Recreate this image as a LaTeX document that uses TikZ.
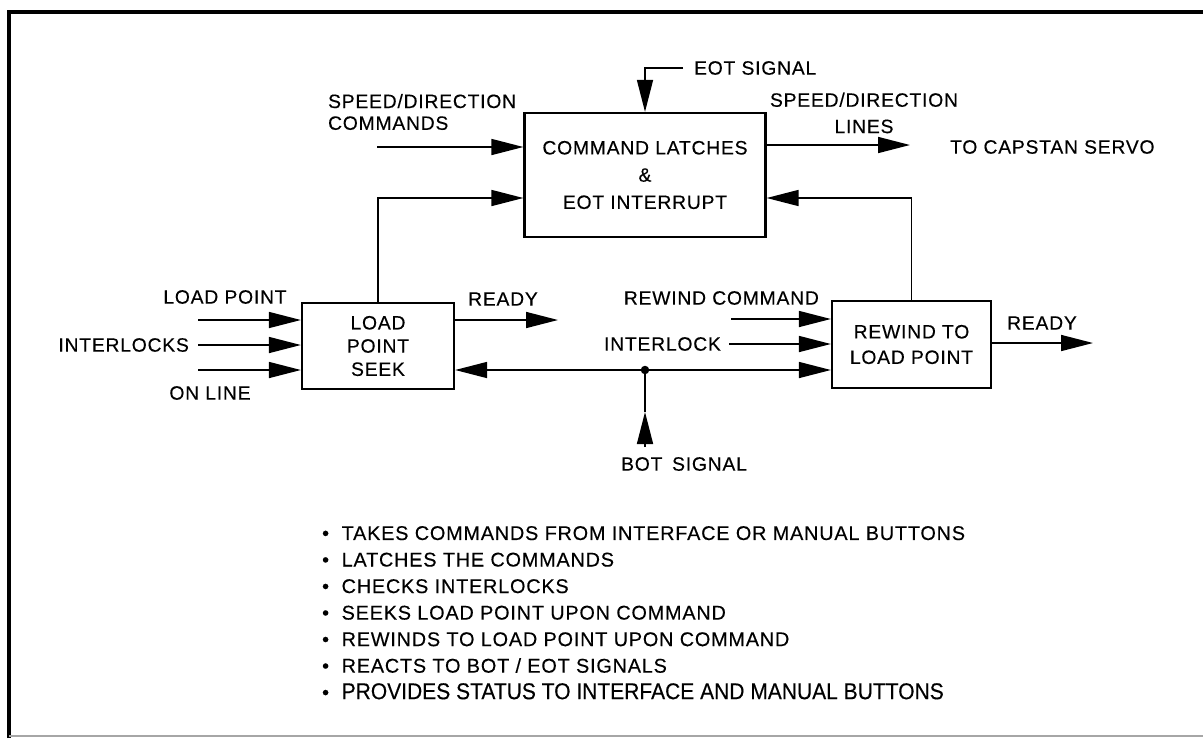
\documentclass[tikz,border=0pt]{standalone}
\usepackage{fontspec}
\setmainfont{Liberation Sans}[LetterSpace=4,FakeBold=0.3]
\usetikzlibrary{arrows.meta,positioning,calc}

\begin{document}
\begin{tikzpicture}[
  x=0.02cm, y=-0.02cm,
  every node/.style={font=\fontsize{11}{13}\selectfont, inner sep=1pt},
  blk/.style={draw, line width=1.3pt, align=center, inner sep=0pt},
  arr/.style={-{Triangle[length=0.64cm,width=0.32cm]}, line width=0.9pt},
  wire/.style={line width=0.9pt},
]
  \useasboundingbox (0,0) rectangle (1203,738);

  % Frame
  \draw[line width=2.6pt] (9,738) -- (9,12) -- (1203,12);
  \draw[line width=1pt, black!35] (9,736) -- (1203,736);

  % Blocks
  \node[blk, minimum width=4.82cm, minimum height=2.48cm,
        font=\fontsize{11}{15.5}\selectfont] (latch) at (645,175)
        {COMMAND LATCHES\\\&\\EOT INTERRUPT};
  \node[blk, minimum width=3.04cm, minimum height=1.72cm,
        font=\fontsize{11}{13.2}\selectfont] (seek) at (378,346)
        {LOAD\\POINT\\SEEK};
  \node[blk, minimum width=3.18cm, minimum height=1.74cm,
        font=\fontsize{11}{14.5}\selectfont] (rewind) at (911.5,344.5)
        {REWIND TO\\LOAD POINT};

  % Labels
  \node[anchor=west, align=left, font=\fontsize{11}{12.4}\selectfont] (spcmd) at (326,112)
        {SPEED/DIRECTION\\COMMANDS};
  \node[anchor=west] (eotsig) at (692,68) {EOT SIGNAL};
  \node[align=center, font=\fontsize{11}{15}\selectfont] (splines) at (864,113)
        {SPEED/DIRECTION\\LINES};
  \node[anchor=west] (capstan) at (948,147) {TO CAPSTAN SERVO};
  \node (lplab) at (225,297) {LOAD POINT};
  \node[anchor=east] (illab) at (191,345) {INTERLOCKS};
  \node (ollab) at (210,393) {ON LINE};
  \node (rdy1) at (503,299) {READY};
  \node[anchor=east] (rwlab) at (821,298) {REWIND COMMAND};
  \node[anchor=east] (ilklab) at (723,344) {INTERLOCK};
  \node (rdy2) at (1042,323) {READY};
  \node (botsig) at (684,464) {BOT\enspace SIGNAL};

  % Free ends
  \coordinate (spin)   at (377,147);
  \coordinate (eotin)  at (683,68);
  \coordinate (spout)  at (910,145);
  \coordinate (lpin)   at (198,320);
  \coordinate (ilin)   at (198,345);
  \coordinate (olin)   at (198,370);
  \coordinate (rdy1out) at (558,320);
  \coordinate (rwin)   at (731,319);
  \coordinate (ilkin)  at (729,344);
  \coordinate (rdy2out) at (1093,343);
  \coordinate (botin)  at (645,447);
  \coordinate (bottip) at (645,412);

  % Command latches connections
  \draw[arr] (spin) -- (spin -| latch.west);
  \draw[arr] (eotin) -| (latch.north);
  \draw[arr] ($(latch.east)+(0,-30)$) -- (spout);
  \draw[arr] (seek.north) |- ($(latch.west)+(0,23)$);
  \draw[arr] (rewind.north) |- ($(latch.east)+(0,23)$);

  % Load point seek connections
  \draw[arr] (lpin) -- (lpin -| seek.west);
  \draw[arr] (ilin) -- (ilin -| seek.west);
  \draw[arr] (olin) -- (olin -| seek.west);
  \draw[arr] (seek.east |- rdy1out) -- (rdy1out);

  % Rewind connections
  \draw[arr] (rwin) -- (rwin -| rewind.west);
  \draw[arr] (ilkin) -- (ilkin -| rewind.west);
  \draw[arr] (rewind.east |- rdy2out) -- (rdy2out);

  % BOT bus
  \node[circle, fill, inner sep=0pt, minimum size=0.17cm] (dot) at (645,370) {};
  \draw[arr] (dot.center) -- (dot -| seek.east);
  \draw[arr] (dot.center) -- (dot -| rewind.west);
  \draw[arr] (botin) -- (bottip);
  \draw[wire] (bottip) -- (dot.center);

  % Duties
  \node[anchor=north west, align=left, font=\fontsize{11.3}{15.1}\selectfont] (duties) at (320,524)
    {\textbullet\ \ TAKES COMMANDS FROM INTERFACE OR MANUAL BUTTONS\\
     \textbullet\ \ LATCHES THE COMMANDS\\
     \textbullet\ \ CHECKS INTERLOCKS\\
     \textbullet\ \ SEEKS LOAD POINT UPON COMMAND\\
     \textbullet\ \ REWINDS TO LOAD POINT UPON COMMAND\\
     \textbullet\ \ REACTS TO BOT / EOT SIGNALS\\
     \textbullet\ \ {\addfontfeature{FakeStretch=0.92,LetterSpace=0}\fontsize{13}{15.1}\selectfont PROVIDES STATUS TO INTERFACE AND MANUAL BUTTONS}};
\end{tikzpicture}
\end{document}
